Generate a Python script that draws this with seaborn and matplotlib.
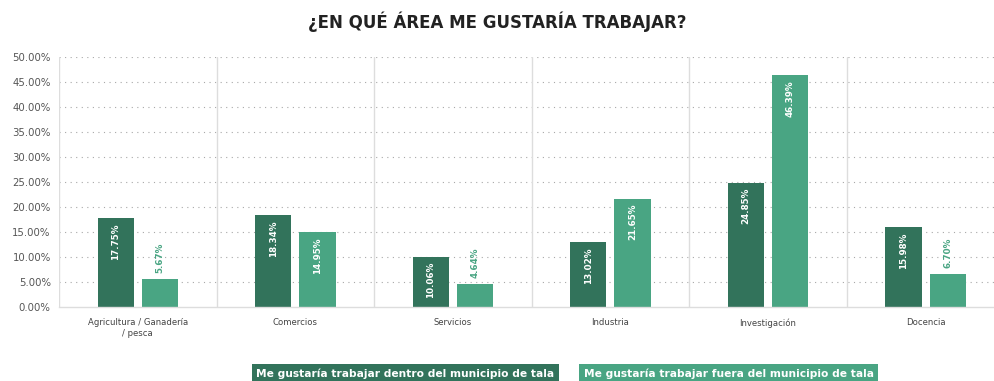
import matplotlib
matplotlib.use("Agg")
import matplotlib.pyplot as plt
import seaborn as sns
import pandas as pd

categories = ["Agricultura / Ganadería\n/ pesca", "Comercios", "Servicios",
              "Industria", "Investigación", "Docencia"]
dentro = [17.75, 18.34, 10.06, 13.02, 24.85, 15.98]
fuera = [5.67, 14.95, 4.64, 21.65, 46.39, 6.70]
series_names = ["Me gustaría trabajar dentro del municipio de tala",
                "Me gustaría trabajar fuera del municipio de tala"]
yticks = [0, 5, 10, 15, 20, 25, 30, 35, 40, 45, 50]

DARK = "#32735b"
LIGHT = "#49a583"

df = pd.DataFrame({
    "area": categories * 2,
    "serie": [series_names[0]] * len(categories) + [series_names[1]] * len(categories),
    "valor": dentro + fuera,
})

sns.set_theme(style="white")
plt.rcParams["font.family"] = ["DejaVu Sans"]

fig = plt.figure(figsize=(9.94, 3.81), dpi=100)
ax = fig.add_axes([0.0594, 0.194, 0.951, 0.656])

sns.barplot(data=df, x="area", y="valor", hue="serie", hue_order=series_names,
            palette=[DARK, LIGHT], saturation=1, width=0.56, gap=0.18, ax=ax,
            legend=False, edgecolor="none")

ax.set_ylim(0, 50)
ax.set_xlim(-0.5, len(categories) - 0.5)
ax.set_yticks(yticks)
ax.set_yticklabels([f"{v:.2f}%" for v in yticks], fontsize=7.3, color="#555555")
ax.tick_params(axis="y", length=0, pad=6)
ax.tick_params(axis="x", length=0, pad=8, labelsize=6.1, labelcolor="#444444")
ax.set_xlabel("")
ax.set_ylabel("")

# dotted horizontal grid, solid separators between groups
for v in yticks[1:]:
    ax.axhline(v, color="#a8a8a8", lw=0.8, ls=(0, (1, 4)), zorder=0)
for i in range(len(categories) + 1):
    ax.axvline(i - 0.5, color="#dddddd", lw=1, zorder=0)
for s in ["top", "right", "left"]:
    ax.spines[s].set_visible(False)
ax.spines["bottom"].set_color("#dddddd")
ax.spines["bottom"].set_linewidth(1)

# value labels
for container, color in zip(ax.containers, [DARK, LIGHT]):
    for bar in container:
        h = bar.get_height()
        xc = bar.get_x() + bar.get_width() / 2
        txt = f"{h:.2f}%"
        if h >= 9:
            ax.text(xc, h - 1.0, txt, rotation=90, ha="center", va="top",
                    color="white", fontsize=6.3, fontweight="bold")
        else:
            ax.text(xc, h + 1.2, txt, rotation=90, ha="center", va="bottom",
                    color=color, fontsize=6.3, fontweight="bold")

fig.text(0.5, 0.942, "¿EN QUÉ ÁREA ME GUSTARÍA TRABAJAR?", ha="center", va="center",
         fontsize=12, fontweight="bold", color="#222222")

# legend as colored boxes
fig.text(0.408, 0.018, series_names[0], ha="center", va="center", color="white",
         fontsize=7.7, fontweight="bold",
         bbox=dict(boxstyle="square,pad=0.45", fc=DARK, ec="none"))
fig.text(0.733, 0.018, series_names[1], ha="center", va="center", color="white",
         fontsize=7.7, fontweight="bold",
         bbox=dict(boxstyle="square,pad=0.45", fc=LIGHT, ec="none"))

fig.savefig("out.png", dpi=100)
